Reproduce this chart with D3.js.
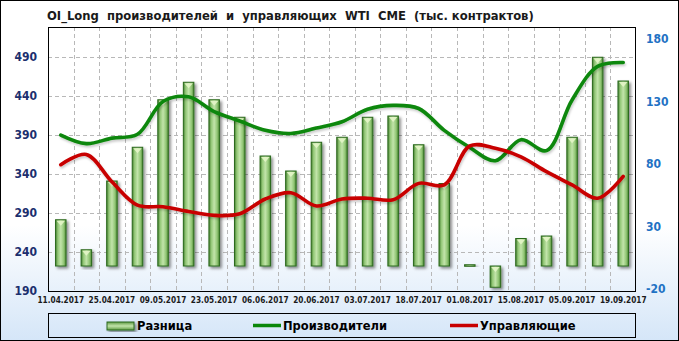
<!DOCTYPE html>
<html>
<head>
<meta charset="utf-8">
<script src="https://cdn.jsdelivr.net/npm/d3@7"></script>
<style>
  body { margin: 0; }
  svg { display: block; }
</style>
</head>
<body>
<div id="container"></div>
<script>
// weekly report dates (categories)
const dates = ["11.04.2017", "18.04.2017", "25.04.2017", "02.05.2017", "09.05.2017", "16.05.2017",
  "23.05.2017", "30.05.2017", "06.06.2017", "13.06.2017", "20.06.2017", "27.06.2017",
  "03.07.2017", "11.07.2017", "18.07.2017", "25.07.2017", "01.08.2017", "08.08.2017",
  "15.08.2017", "22.08.2017", "05.09.2017", "12.09.2017", "19.09.2017"];

// Разница (right axis)
const diff = [37, 13, 68, 95, 133, 147, 133, 119, 88, 76, 99, 103,
  119, 120, 97, 66, 1, -17, 22, 24, 103, 167, 148];

// Производители (left axis)
const producers = [390, 379, 386, 391, 433, 439, 420, 408, 396, 392, 399, 407,
  423, 428, 424, 396, 374, 357, 384, 370, 435, 478, 483];

// Управляющие (left axis)
const managers = [352, 365, 330, 300, 298, 292, 287, 289, 308, 316, 299, 308,
  309, 307, 328, 326, 376, 373, 362, 343, 326, 309, 337];

const leftTicks = [190, 240, 290, 340, 390, 440, 490];
const rightTicks = [-20, 30, 80, 130, 180];

const title = "OI_Long  производителей  и  управляющих  WTI  CME  (тыс. контрактов)";

const W = 679, H = 341;
const plot = { left: 48, right: 636, top: 27, bottom: 291 };

const svg = d3.select("#container")
  .append("svg")
  .attr("width", W)
  .attr("height", H);

const defs = svg.append("defs");

// background gradient
const bg = defs.append("linearGradient").attr("id", "bg")
  .attr("x1", 0).attr("y1", 0).attr("x2", 0).attr("y2", 1);
bg.append("stop").attr("offset", "0%").attr("stop-color", "#ffffff");
bg.append("stop").attr("offset", "66%").attr("stop-color", "#ffffff");
bg.append("stop").attr("offset", "100%").attr("stop-color", "#d5e6f8");

// bar gradient (across the bar)
const barGrad = defs.append("linearGradient").attr("id", "barGrad")
  .attr("x1", 0).attr("y1", 0).attr("x2", 1).attr("y2", 0);
barGrad.append("stop").attr("offset", "0%").attr("stop-color", "#467f30");
barGrad.append("stop").attr("offset", "22%").attr("stop-color", "#93c777");
barGrad.append("stop").attr("offset", "50%").attr("stop-color", "#c2e4aa");
barGrad.append("stop").attr("offset", "78%").attr("stop-color", "#93c777");
barGrad.append("stop").attr("offset", "100%").attr("stop-color", "#4f8b36");

// same gradient for the horizontal legend swatch
const legGrad = defs.append("linearGradient").attr("id", "legGrad")
  .attr("x1", 0).attr("y1", 0).attr("x2", 0).attr("y2", 1);
legGrad.append("stop").attr("offset", "0%").attr("stop-color", "#5e9a43");
legGrad.append("stop").attr("offset", "50%").attr("stop-color", "#c2e4aa");
legGrad.append("stop").attr("offset", "100%").attr("stop-color", "#5e9a43");

const shadow = defs.append("filter").attr("id", "shadow")
  .attr("x", "-50%").attr("y", "-20%").attr("width", "200%").attr("height", "140%");
shadow.append("feDropShadow").attr("dx", 2).attr("dy", 2)
  .attr("stdDeviation", 1.5).attr("flood-color", "#000").attr("flood-opacity", 0.45);

const lineShadow = defs.append("filter").attr("id", "lineShadow")
  .attr("x", "-10%").attr("y", "-30%").attr("width", "120%").attr("height", "160%");
lineShadow.append("feDropShadow").attr("dx", 1).attr("dy", 2)
  .attr("stdDeviation", 1).attr("flood-color", "#000").attr("flood-opacity", 0.2);

svg.append("rect")
  .attr("x", 0.5).attr("y", 0.5)
  .attr("width", W - 1).attr("height", H - 1)
  .attr("fill", "url(#bg)")
  .attr("stroke", "#000");

// scales
const x = d3.scaleBand().domain(dates).range([plot.left, plot.right]).padding(0);
const yL = d3.scaleLinear().domain([190, 528.5]).range([plot.bottom, plot.top]);
const yR = d3.scaleLinear().domain([-20, 191.2]).range([plot.bottom, plot.top]);

// title
svg.append("text")
  .attr("x", 47).attr("y", 20)
  .style("white-space", "pre")
  .attr("font-family", "DejaVu Sans, sans-serif")
  .attr("font-weight", "bold")
  .attr("font-size", "11.6px")
  .attr("fill", "#1a1a1a")
  .text(title);

// grid
const grid = svg.append("g").attr("id", "grid")
  .attr("stroke", "#b8b8b8")
  .attr("stroke-dasharray", "4,3")
  .attr("stroke-width", 1);

grid.selectAll("line.h")
  .data(leftTicks.slice(1))
  .enter().append("line")
  .attr("class", "h")
  .attr("x1", plot.left).attr("x2", plot.right)
  .attr("y1", d => Math.round(yL(d)) + 0.5)
  .attr("y2", d => Math.round(yL(d)) + 0.5);

grid.selectAll("line.v")
  .data(dates.slice(1))
  .enter().append("line")
  .attr("class", "v")
  .attr("x1", d => Math.round(x(d)) + 0.5)
  .attr("x2", d => Math.round(x(d)) + 0.5)
  .attr("y1", plot.top).attr("y2", plot.bottom);

// bars
const barW = 10.5;
const bars = svg.append("g").attr("id", "bars");

bars.selectAll("rect")
  .data(diff)
  .enter().append("rect")
  .attr("x", (d, i) => x(dates[i]) + x.bandwidth() / 2 - barW / 2)
  .attr("y", d => yR(Math.max(d, 0)))
  .attr("width", barW)
  .attr("height", d => Math.max(Math.abs(yR(d) - yR(0)), 1.5))
  .attr("fill", "url(#barGrad)")
  .attr("stroke", "#2c6a1e")
  .attr("stroke-width", 1)
  .attr("filter", "url(#shadow)");

// small light triangle at the top of each bar
bars.selectAll("path.tri")
  .data(diff.map((d, i) => ({ v: d, i: i })).filter(d => Math.abs(d.v) > 3))
  .enter().append("path")
  .attr("class", "tri")
  .attr("d", d => {
    const cx = x(dates[d.i]) + x.bandwidth() / 2;
    const top = yR(Math.max(d.v, 0)) + 1;
    return `M${cx - barW / 2 + 1},${top} L${cx + barW / 2 - 1},${top} L${cx},${top + 5} Z`;
  })
  .attr("fill", "#e4f5c8")
  .attr("opacity", 0.9);

// lines
const line = d3.line()
  .x((d, i) => x(dates[i]) + x.bandwidth() / 2)
  .y(d => yL(d))
  .curve(d3.curveCatmullRom.alpha(0.5));

svg.append("path")
  .datum(producers)
  .attr("d", line)
  .attr("fill", "none")
  .attr("stroke", "#0a870a")
  .attr("stroke-width", 3.6)
  .attr("stroke-linecap", "round")
  .attr("filter", "url(#lineShadow)");

svg.append("path")
  .datum(managers)
  .attr("d", line)
  .attr("fill", "none")
  .attr("stroke", "#c80000")
  .attr("stroke-width", 3.6)
  .attr("stroke-linecap", "round")
  .attr("filter", "url(#lineShadow)");

// plot frame
svg.append("rect")
  .attr("x", plot.left + 0.5).attr("y", plot.top + 0.5)
  .attr("width", plot.right - plot.left - 1)
  .attr("height", plot.bottom - plot.top)
  .attr("fill", "none")
  .attr("stroke", "#000");

// left axis labels
svg.append("g").attr("id", "left-axis")
  .selectAll("text")
  .data(leftTicks)
  .enter().append("text")
  .attr("x", 37)
  .attr("y", d => yL(d))
  .attr("dy", "0.36em")
  .attr("text-anchor", "end")
  .attr("font-family", "DejaVu Sans Condensed, DejaVu Sans, sans-serif")
  .attr("font-weight", "bold")
  .attr("font-size", "12px")
  .attr("fill", "#1c2f6e")
  .text(d => d);

// right axis labels
svg.append("g").attr("id", "right-axis")
  .selectAll("text")
  .data(rightTicks)
  .enter().append("text")
  .attr("x", 646)
  .attr("y", d => yR(d) - 2)
  .attr("dy", "0.36em")
  .attr("font-family", "DejaVu Sans Condensed, DejaVu Sans, sans-serif")
  .attr("font-weight", "bold")
  .attr("font-size", "12px")
  .attr("fill", "#1f72c4")
  .text(d => d);

// x labels (every other date)
svg.append("g").attr("id", "x-axis")
  .selectAll("text")
  .data(dates.filter((d, i) => i % 2 === 0))
  .enter().append("text")
  .attr("x", d => x(d) + x.bandwidth() / 2)
  .attr("y", 303)
  .attr("text-anchor", "middle")
  .attr("font-family", "DejaVu Sans Condensed, DejaVu Sans, sans-serif")
  .attr("font-weight", "bold")
  .attr("font-size", "8.2px")
  .attr("fill", "#1a1a1a")
  .text(d => d);

// legend
const legend = svg.append("g").attr("id", "legend");
legend.append("rect")
  .attr("x", 48.5).attr("y", 313.5)
  .attr("width", 587).attr("height", 24)
  .attr("fill", "none")
  .attr("stroke", "#000");

const legendItems = [
  { name: "Разница", type: "bar", x: 107, tx: 137 },
  { name: "Производители", type: "line", color: "#0a870a", x: 253, tx: 283 },
  { name: "Управляющие", type: "line", color: "#c80000", x: 450, tx: 480 }
];

legendItems.forEach(d => {
  if (d.type === "bar") {
    legend.append("rect")
      .attr("x", d.x).attr("y", 322)
      .attr("width", 27).attr("height", 8)
      .attr("fill", "url(#legGrad)")
      .attr("stroke", "#2c6a1e")
      .attr("filter", "url(#shadow)");
  } else {
    legend.append("line")
      .attr("x1", d.x).attr("x2", d.x + 28)
      .attr("y1", 325.5).attr("y2", 325.5)
      .attr("stroke", d.color)
      .attr("stroke-width", 3.5);
  }
  legend.append("text")
    .attr("x", d.tx).attr("y", 330)
    .attr("font-family", "DejaVu Sans, sans-serif")
    .attr("font-weight", "bold")
    .attr("font-size", "11.5px")
    .attr("fill", "#000")
    .text(d.name);
});
</script>
</body>
</html>
